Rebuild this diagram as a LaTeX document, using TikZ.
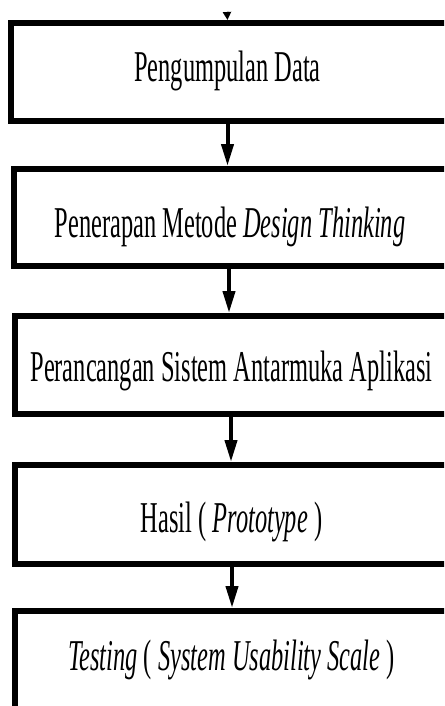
\documentclass[tikz,border=0pt]{standalone}
\usepackage{fontspec}
\usepackage{graphicx}
\setmainfont{Liberation Serif}
\usetikzlibrary{arrows.meta}
% narrow, tall lettering used in every step box
\newcommand\narrowtext[1]{\scalebox{0.555}[1]{#1}}
\tikzset{
  stepbox/.style={draw=black, line width=6pt, rectangle, fill=none, inner sep=0pt},
  steptext/.style={anchor=base, inner sep=0pt, font=\fontsize{44}{52}\selectfont},
  flow/.style={draw=black, line width=4pt, -{Triangle[length=22pt,width=12pt]}},
  flowin/.style={draw=black, line width=4pt, -{Triangle[length=8pt,width=8pt]}}
}
\begin{document}
\begin{tikzpicture}[x=1pt,y=-1pt]
  \useasboundingbox (0,0) rectangle (444,706);
  \clip (0,0) rectangle (444,706);
  \fill[white] (0,0) rectangle (444,706);

  % boxes (outer corner, path size = outer size - line width)
  \node[stepbox, anchor=north west, minimum width=456pt, minimum height=98pt] (b1) at (8,20) {};
  \node[stepbox, anchor=north west, minimum width=453pt, minimum height=97pt] (b2) at (11,166) {};
  \node[stepbox, anchor=north west, minimum width=452pt, minimum height=98pt] (b3) at (12,313) {};
  \node[stepbox, anchor=north west, minimum width=452pt, minimum height=99pt] (b4) at (12,462) {};
  \node[stepbox, anchor=north west, minimum width=452pt, minimum height=97.5pt] (b5) at (12,608) {};

  % step labels
  \node[steptext] (t1) at (227.5,82) {\narrowtext{Pengumpulan Data}};
  \node[steptext] (t2) at (230,237) {\narrowtext{Penerapan Metode \textit{Design Thinking}}};
  \node[steptext] (t3) at (231.5,381) {\narrowtext{Perancangan Sistem Antarmuka Aplikasi}};
  \node[steptext] (t4) at (231.5,532) {\narrowtext{Hasil ( \textit{Prototype} )}};
  \node[steptext] (t5) at (231.5,670) {\narrowtext{\textit{Testing} ( \textit{System Usability Scale} )}};

  % incoming arrow from the previous stage
  \coordinate (src) at (227,12);
  \draw[flowin] (src) -- (t1 |- b1.north);

  % arrows between steps
  \draw[flow] (t1 |- b1.south) -- (t1 |- b2.north);
  \draw[flow] ([xshift=-1pt]t2 |- b2.south) -- ([xshift=-1pt]t2 |- b3.north);
  \draw[flow] ([xshift=-0.5pt]t3 |- b3.south) -- ([xshift=-0.5pt]t3 |- b4.north);
  \draw[flow] ([xshift=0.5pt]t4 |- b4.south) -- ([xshift=0.5pt]t4 |- b5.north);
\end{tikzpicture}
\end{document}
